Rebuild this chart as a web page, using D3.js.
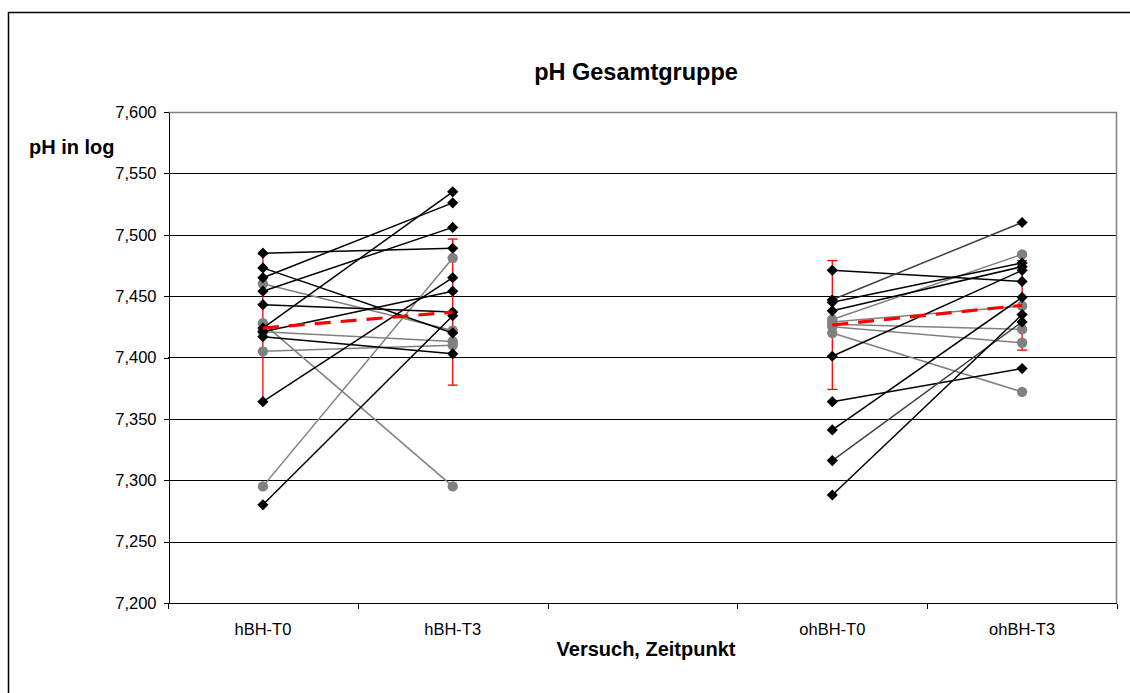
<!DOCTYPE html>
<html>
<head>
<meta charset="utf-8">
<script src="https://cdn.jsdelivr.net/npm/d3@7"></script>
<style>
  body { margin: 0; background: #fff; }
  svg { display: block; font-family: "Liberation Sans", Arial, sans-serif; }
  .grid line { stroke: #000; stroke-width: 1; }
  .axis path, .axis line { stroke: #000; shape-rendering: crispEdges; }
  .axis text { font-size: 16.5px; fill: #000; }
  .title { font-weight: bold; font-size: 23.5px; }
  .label { font-weight: bold; font-size: 20px; }
</style>
</head>
<body>
<script>
// categories on the x axis (third slot is an empty spacer)
var categories = ["hBH-T0", "hBH-T3", "", "ohBH-T0", "ohBH-T3"];
var yTicks = [7.2, 7.25, 7.3, 7.35, 7.4, 7.45, 7.5, 7.55, 7.6];

// hBH group, one entry per subject
var hbhKind = ["d", "d", "d", "d", "d", "d", "d", "d", "d", "d", "g", "g", "g", "g", "g"];
var hbhT0 = [7.485, 7.473, 7.465, 7.454, 7.443, 7.424, 7.421, 7.417, 7.364, 7.280, 7.460, 7.428, 7.405, 7.295, 7.421];
var hbhT3 = [7.489, 7.420, 7.526, 7.506, 7.437, 7.535, 7.454, 7.403, 7.465, 7.434, 7.422, 7.295, 7.410, 7.481, 7.413];

// ohBH group
var ohbhKind = ["d", "d", "d", "d", "d", "d", "d", "d", "d", "g", "g", "g", "g", "g"];
var ohbhT0 = [7.471, 7.447, 7.445, 7.438, 7.401, 7.364, 7.341, 7.316, 7.288, 7.431, 7.429, 7.427, 7.425, 7.420];
var ohbhT3 = [7.462, 7.510, 7.477, 7.474, 7.471, 7.391, 7.449, 7.429, 7.435, 7.484, 7.442, 7.423, 7.412, 7.372];

// group means and error (+/-)
var meanValues = [7.424, 7.437, null, 7.4265, 7.4425];
var errValues = [0.060, 0.0595, null, 0.0525, 0.0365];

var W = 1130, H = 693;
var margin = {top: 112, right: 13, bottom: 90, left: 168};

var svg = d3.select("body").append("svg")
    .attr("width", W)
    .attr("height", H);

// outer chart frame (runs off the right and bottom edge)
svg.append("rect")
    .attr("x", 8.5).attr("y", 12.5)
    .attr("width", 1200).attr("height", 800)
    .attr("fill", "#fff")
    .attr("stroke", "#000")
    .attr("stroke-width", 1.5);

var x = d3.scaleBand()
    .domain(categories.map(function(d, i) { return i; }))
    .range([margin.left, W - margin.right]);

var y = d3.scaleLinear()
    .domain([7.2, 7.6])
    .range([H - margin.bottom, margin.top]);

function cx(i) { return x(i) + x.bandwidth() / 2; }

var fmt = function(d) { return d3.format(".3f")(d).replace(".", ","); };

// horizontal gridlines
svg.append("g").attr("class", "grid")
  .selectAll("line")
    .data(yTicks.slice(1, -1))
  .enter().append("line")
    .attr("x1", margin.left).attr("x2", W - margin.right)
    .attr("y1", function(d) { return Math.round(y(d)) + 0.5; })
    .attr("y2", function(d) { return Math.round(y(d)) + 0.5; });

// gray plot frame top / right
svg.append("path")
    .attr("d", "M" + margin.left + "," + (margin.top + 0.5) + "H" + (W - margin.right - 0.5) + "V" + (H - margin.bottom))
    .attr("fill", "none")
    .attr("stroke", "#808080")
    .attr("stroke-width", 1.5);

// y axis
svg.append("g")
    .attr("class", "axis")
    .attr("transform", "translate(" + (margin.left + 0.5) + ",0)")
    .call(d3.axisLeft(y).tickValues(yTicks).tickFormat(fmt).tickSize(5).tickSizeOuter(0).tickPadding(7));

// x axis: ticks on band boundaries, labels in band centers
var xAxis = svg.append("g")
    .attr("class", "axis")
    .attr("transform", "translate(0," + (Math.round(y(7.2)) + 0.5) + ")");
xAxis.append("line")
    .attr("x1", margin.left).attr("x2", W - margin.right);
xAxis.selectAll(".tick")
    .data(d3.range(categories.length + 1))
  .enter().append("line")
    .attr("class", "tick")
    .attr("x1", function(i) { return Math.round(margin.left + i * x.bandwidth()) + 0.5; })
    .attr("x2", function(i) { return Math.round(margin.left + i * x.bandwidth()) + 0.5; })
    .attr("y1", 0).attr("y2", 5);
xAxis.selectAll(".lbl")
    .data(categories)
  .enter().append("text")
    .attr("class", "lbl")
    .attr("x", function(d, i) { return cx(i); })
    .attr("y", 31)
    .attr("text-anchor", "middle")
    .text(function(d) { return d; });

// error bars for the mean
var capW = 5;
var err = svg.append("g").attr("stroke", "#ff0000").attr("stroke-width", 1.3);
meanValues.forEach(function(m, i) {
  if (m === null) return;
  var px = cx(i), lo = y(m - errValues[i]), hi = y(m + errValues[i]);
  err.append("line").attr("x1", px).attr("x2", px).attr("y1", lo).attr("y2", hi);
  err.append("line").attr("x1", px - capW).attr("x2", px + capW).attr("y1", lo).attr("y2", lo);
  err.append("line").attr("x1", px - capW).attr("x2", px + capW).attr("y1", hi).attr("y2", hi);
});

var groups = [
  {a: 0, b: 1, kind: hbhKind, t0: hbhT0, t3: hbhT3, dark: []},
  {a: 3, b: 4, kind: ohbhKind, t0: ohbhT0, t3: ohbhT3, dark: [1, 7]}
];

var diamond = "M0,-5.6L5.6,0L0,5.6L-5.6,0Z";

groups.forEach(function(g) {
  var series = g.t0.map(function(v, i) { return {k: g.kind[i], v0: v, v3: g.t3[i], dark: g.dark.indexOf(i) >= 0}; });
  // draw gray series first, black series on top
  series.sort(function(p, q) { return (p.k === "g" ? 0 : 1) - (q.k === "g" ? 0 : 1); });

  var s = svg.append("g").selectAll("g")
      .data(series)
    .enter().append("g");

  s.append("line")
      .attr("x1", cx(g.a)).attr("x2", cx(g.b))
      .attr("y1", function(d) { return y(d.v0); })
      .attr("y2", function(d) { return y(d.v3); })
      .attr("stroke", function(d) { return d.k === "g" ? "#808080" : (d.dark ? "#404040" : "#000"); })
      .attr("stroke-width", 1.5);

  [[g.a, "v0"], [g.b, "v3"]].forEach(function(p) {
    s.filter(function(d) { return d.k === "g"; }).append("circle")
        .attr("cx", cx(p[0]))
        .attr("cy", function(d) { return y(d[p[1]]); })
        .attr("r", 5.2)
        .attr("fill", "#808080");
    s.filter(function(d) { return d.k === "d"; }).append("path")
        .attr("d", diamond)
        .attr("transform", function(d) { return "translate(" + cx(p[0]) + "," + y(d[p[1]]) + ")"; })
        .attr("fill", "#000");
  });

  // dashed mean line
  svg.append("line")
      .attr("x1", cx(g.a)).attr("x2", cx(g.b))
      .attr("y1", y(meanValues[g.a])).attr("y2", y(meanValues[g.b]))
      .attr("stroke", "#ff0000")
      .attr("stroke-width", 3.2)
      .attr("stroke-dasharray", "16,10");
});

// titles
svg.append("text")
    .attr("class", "title")
    .attr("x", 636).attr("y", 80)
    .attr("text-anchor", "middle")
    .text("pH Gesamtgruppe");

svg.append("text")
    .attr("class", "label")
    .attr("x", 29).attr("y", 154)
    .text("pH in log");

svg.append("text")
    .attr("class", "label")
    .attr("x", 646).attr("y", 656)
    .attr("text-anchor", "middle")
    .text("Versuch, Zeitpunkt");
</script>
</body>
</html>
